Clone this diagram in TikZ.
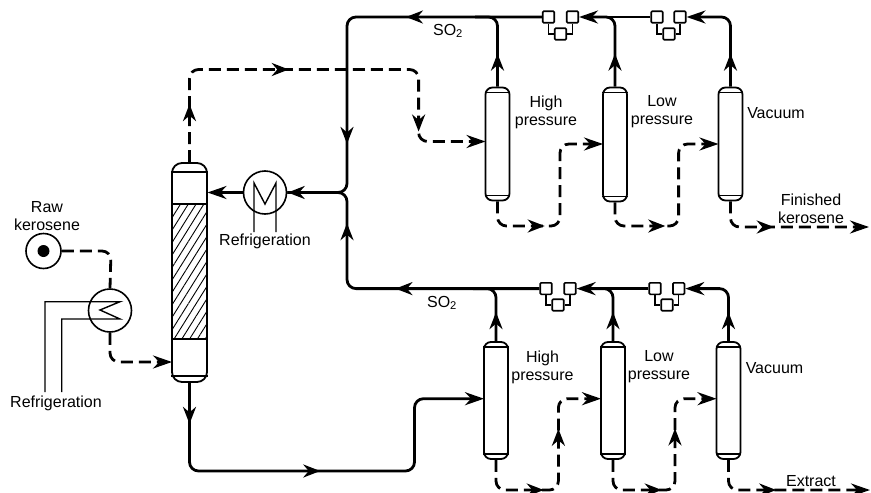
\documentclass[tikz,border=0pt]{standalone}
\usepackage{fontspec}
\setmainfont{Liberation Sans}
\usetikzlibrary{arrows.meta,decorations.markings,patterns.meta}
\tikzset{
  vessel/.style={draw,rectangle,rounded corners=7pt,minimum width=24pt,inner sep=0pt,line width=1.8pt},
  tower/.style={vessel,rounded corners=10pt,minimum width=35pt,minimum height=219pt},
  packing/.style={draw,rectangle,inner sep=0pt,minimum width=35pt,minimum height=135pt,line width=1.6pt,pattern={Lines[angle=58,distance=6.6pt,line width=0.9pt]}},
  exch/.style={draw,circle,inner sep=0pt,minimum size=43pt,line width=1.6pt},
  filt/.style={draw,rectangle,rounded corners=1pt,inner sep=0pt,minimum size=11.5pt,line width=1.6pt},
  thinl/.style={line width=1.4pt},
  pipe/.style={line width=2.8pt,rounded corners=9pt},
  dpipe/.style={pipe,dash pattern=on 12pt off 6pt},
  endtip/.style={-{Stealth[length=19pt,width=13pt]}},
  tipat/.style={postaction={decorate,decoration={markings,mark=at position #1 with {\arrow{Stealth[length=17pt,width=13pt]}}}}},
  lbl/.style={font=\fontsize{16}{18}\selectfont,align=center,inner sep=0pt}
}
\begin{document}
\begin{tikzpicture}[x=1pt,y=-1pt]
  \useasboundingbox (0,0) rectangle (871,493);
  % Main tower
  \node[tower] (tower) at (189.5,272.5) {};
  \node[packing] (pack) at (189.5,271.5) {};
  \draw[thinl] ([yshift=-10pt]tower.north west) -- ([yshift=-10pt]tower.north east);
  \draw[thinl] ([yshift=7pt]tower.south west) -- ([yshift=7pt]tower.south east);

  % Vessels
  \foreach \n/\x/\y/\h in {hpa/497.5/144/113, lpa/615/144.5/114, vca/730.5/144/113, hpb/496/400.5/117, lpb/613/400.5/117, vcb/728.5/400.5/117} {
    \node[vessel, minimum height=\h pt] (\n) at (\x,\y) {};
    \draw[thinl] ([yshift=-6pt]\n.north west) -- ([yshift=-6pt]\n.north east);
    \draw[thinl] ([yshift=6pt]\n.south west) -- ([yshift=6pt]\n.south east);
  }

  % Filters
  \foreach \f/\xl/\xr/\xm/\yt/\ym in {fa/548.5/572.5/560.5/17/34, fb/657/680/669/17/34, fc/546/570/558/288.6/305, fd/655/678.7/667/288.6/305} {
    \node[filt] (\f l) at (\xl,\yt) {};
    \node[filt] (\f r) at (\xr,\yt) {};
    \node[filt] (\f m) at (\xm,\ym) {};
    \draw[thinl] (\f l.south) |- (\f m.west);
    \draw[thinl] (\f r.south) |- (\f m.east);
  }

  % Feed and exchanger
  \node[exch, minimum size=35pt] (raw) at (43.5,251) {};
  \node[circle, fill, inner sep=0pt, minimum size=12pt] (rawdot) at (43.5,251) {};
  \node[lbl] (rawlbl) at (47,216) {Raw\\kerosene};
  \node[exch] (hx) at (110,310.5) {};
  \coordinate (hxa) at (45,392);
  \coordinate (hxb) at (61.7,392);
  \draw[thinl] (hxa) -- (45,301.7) -- (120,301.7) -- (100,310) -- (120,319) -- (61.7,319) -- (hxb);
  \node[lbl] (hxlbl) at (56,403.5) {Refrigeration};

  % Condenser
  \node[exch] (cond) at (265,192.5) {};
  \coordinate (conda) at (254,232);
  \coordinate (condb) at (276,232);
  \draw[thinl] (conda) -- (254,183) -- (265,204) -- (276,183) -- (condb);
  \node[lbl] (condlbl) at (265,241.5) {Refrigeration};
  \coordinate (tee) at (347,192.5);
  \coordinate (towerout) at (207.5,192.5);
  \draw[pipe,endtip] (cond.west) -- (towerout);

  % Dashed feed lines
  \coordinate (towerin) at (172,362);
  \coordinate (hpain) at (485.5,141.5);
  \draw[dpipe,tipat=84pt] (raw.east) -- (111,251) -- (hx.north);
  \draw[dpipe,endtip] (hx.south) -- (110,362) -- (towerin);
  \draw[dpipe,endtip,tipat=58pt,tipat=188pt,tipat=376pt] (tower.north) -- (189.5,69.5) -- (418.6,69.5) -- (418.6,141.5) -- (hpain);

  % Upper raffinate train
  \coordinate (lpain) at (603,144);
  \coordinate (vcain) at (718.5,144);
  \coordinate (kero) at (869,227);
  \draw[dpipe,endtip,tipat=68pt] (hpa.south) -- (497.5,226) -- (560,226) -- (560,144) -- (lpain);
  \draw[dpipe,endtip,tipat=70pt] (lpa.south) -- (615,226) -- (678.6,226) -- (678.6,144) -- (vcain);
  \draw[dpipe,endtip,tipat=65pt] (vca.south) -- (730.5,227) -- (kero);

  % Lower extract train
  \coordinate (lpbin) at (601,398.7);
  \coordinate (vcbin) at (716.5,398.7);
  \coordinate (extr) at (870,490);
  \draw[dpipe,endtip,tipat=74pt,tipat=146pt] (hpb.south) -- (496,490) -- (558.4,490) -- (558.4,398.7) -- (lpbin);
  \draw[dpipe,endtip,tipat=75pt,tipat=146pt] (lpb.south) -- (613,490) -- (675,490) -- (675,398.7) -- (vcbin);
  \draw[dpipe,endtip,tipat=74pt] (vcb.south) -- (728.5,490) -- (extr);

  % Tower bottoms to extract train
  \coordinate (hpbin) at (484,398.7);
  \draw[pipe,endtip,tipat=41pt,tipat=215pt] (tower.south) -- (189.5,471) -- (414.5,471) -- (414.5,398.7) -- (hpbin);

  % SO2 recycle lines
  \coordinate (lpjoin) at (592,17);
  \coordinate (hpjoin) at (475,17);
  \coordinate (lqjoin) at (590,288.6);
  \coordinate (hqjoin) at (473,288.6);
  \draw[pipe,endtip,tipat=33pt] (vca.north) -- (730.5,17) -- (fbr.east);
  \draw[pipe,endtip] (fbl.west) -- (far.east);
  \draw[pipe,tipat=33pt] (lpa.north) -- (615,17) -- (lpjoin);
  \draw[pipe,tipat=33pt] (hpa.north) -- (497.5,17) -- (hpjoin);
  \draw[pipe,tipat=136pt,tipat=318pt,tipat=422pt] (fal.west) -- (347,17) -- (tee) -- (cond.east);
  \draw[pipe,endtip,tipat=29pt] (vcb.north) -- (728.5,288.6) -- (fdr.east);
  \draw[pipe,endtip] (fdl.west) -- (fcr.east);
  \draw[pipe,tipat=29pt] (lpb.north) -- (613,288.6) -- (lqjoin);
  \draw[pipe,tipat=29pt] (hpb.north) -- (496,288.6) -- (hqjoin);
  \draw[pipe,tipat=144pt,tipat=254pt] (fcl.west) -- (347,288.6) -- (tee) -- (cond.east);

  % Labels
  \node[lbl] (soa) at (448,31) {SO\textsubscript{2}};
  \node[lbl] (sob) at (442,303) {SO\textsubscript{2}};
  \node[lbl] (hpalbl) at (546,112) {High\\pressure};
  \node[lbl] (lpalbl) at (662,112) {Low\\pressure};
  \node[lbl] (vcalbl) at (776,113) {Vacuum};
  \node[lbl] (kerolbl) at (811,208.5) {Finished\\kerosene};
  \node[lbl] (hpblbl) at (542.5,367) {High\\pressure};
  \node[lbl] (lpblbl) at (659,367) {Low\\pressure};
  \node[lbl] (vcblbl) at (774.5,368) {Vacuum};
  \node[lbl] (extrlbl) at (811,481) {Extract};
\end{tikzpicture}
\end{document}
